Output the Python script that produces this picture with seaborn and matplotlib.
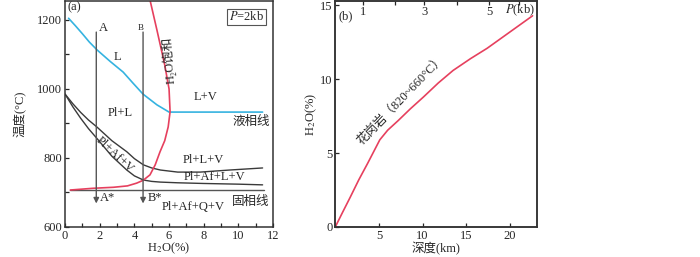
import matplotlib
matplotlib.use("Agg")
import matplotlib.pyplot as plt
from matplotlib.ticker import MultipleLocator
import seaborn as sns
import pandas as pd

# ---- data ----
# (a) phase diagram, P = 2kb
liquidus_x = [0.2, 0.6, 1.0, 1.4, 1.85, 2.6, 3.35, 3.9, 4.5, 5.3, 6.0, 8.0, 11.4]
liquidus_t = [1205, 1183, 1160, 1136, 1113, 1080, 1049, 1018, 985, 954, 933, 933, 933]

sat_x = [4.9, 5.3, 5.75, 6.0, 6.06, 5.95, 5.75, 5.48, 5.2, 4.9, 4.5, 4.13, 3.6, 2.8, 1.6, 0.3]
sat_t = [1258, 1171, 1070, 1000, 934, 890, 850, 818, 780, 751, 735, 727, 719, 715, 712, 707]

plv_x = [0, 0.45, 0.9, 1.35, 1.83, 2.7, 3.56, 4.0, 4.52, 5.0, 5.5, 6.5, 7.8, 9.5, 11.4]
plv_t = [985, 957, 932, 910, 890, 850, 818, 798, 780, 771, 765, 759, 759, 765, 771]

pafv_x = [0, 0.45, 0.9, 1.35, 1.83, 2.7, 3.56, 4.0, 4.52, 5.0, 5.5, 6.5, 8.0, 10.0, 11.4]
pafv_t = [985, 948, 915, 885, 857, 805, 765, 748, 736, 732, 730, 728, 726, 724, 722]

solidus_x = [0.3, 11.5]
solidus_t = [707, 707]

arrow_x = [1.8, 4.5]
arrow_top = 1165
arrow_bottom = 668

# (b) H2O solubility vs depth for granite
depth_km = [0, 0.8, 1.7, 2.7, 3.7, 5.1, 6.0, 7.2, 8.6, 10.1, 11.8, 13.5, 15.5, 17.4, 20.0, 22.6]
h2o_pct = [0, 0.95, 2.0, 3.2, 4.3, 5.9, 6.55, 7.2, 8.0, 8.8, 9.75, 10.6, 11.4, 12.1, 13.2, 14.3]

pressure_kb = [1, 2, 3, 4, 5, 6]
pressure_depth = [3.2, 6.86, 10.17, 13.9, 17.6, 21.1]
pressure_labels = ["1", "", "3", "", "5", "$P$(kb)"]

# ---- style ----
sns.set_style("ticks")
plt.rcParams["font.family"] = ["Liberation Serif", "DejaVu Serif", "Noto Sans CJK SC"]
plt.rcParams["mathtext.fontset"] = "stix"
plt.rcParams["font.size"] = 9
plt.rcParams["axes.linewidth"] = 1.1
plt.rcParams["axes.edgecolor"] = "#333333"

CYAN = "#35b3e0"
RED = "#e6405e"
DARK = "#3a3a3a"
GREY = "#555555"
FS = 9

fig = plt.figure(figsize=(7.0, 2.57), dpi=100)
ax1 = fig.add_axes([0.093, 0.117, 0.297, 0.879])
ax2 = fig.add_axes([0.479, 0.117, 0.288, 0.879])


def line(ax, x, y, color, lw):
    df = pd.DataFrame({"x": x, "y": y})
    sns.lineplot(data=df, x="x", y="y", ax=ax, color=color, lw=lw, sort=False,
                 estimator=None)


# ---- panel (a) ----
line(ax1, liquidus_x, liquidus_t, CYAN, 1.2)
line(ax1, plv_x, plv_t, DARK, 1.0)
line(ax1, pafv_x, pafv_t, DARK, 1.0)
line(ax1, solidus_x, solidus_t, GREY, 1.0)
line(ax1, sat_x, sat_t, RED, 1.2)

for xa in arrow_x:
    ax1.annotate("", xy=(xa, arrow_bottom), xytext=(xa, arrow_top),
                 arrowprops=dict(arrowstyle="-|>", color=GREY, lw=1.0,
                                 mutation_scale=8, shrinkA=0, shrinkB=0))

ax1.set_xlim(0, 12)
ax1.set_ylim(600, 1255)
ax1.xaxis.set_major_locator(MultipleLocator(2))
ax1.xaxis.set_minor_locator(MultipleLocator(1))
ax1.yaxis.set_major_locator(MultipleLocator(200))
ax1.yaxis.set_minor_locator(MultipleLocator(100))
ax1.tick_params(which="both", direction="in", length=3, width=0.9, labelsize=FS, pad=2)
ax1.set_xlabel("H$_2$O(%)", fontsize=FS, va="center")
ax1.xaxis.set_label_coords(0.5, -0.095)
ax1.set_ylabel("温度(°C)", fontsize=FS, va="center")
ax1.yaxis.set_label_coords(-0.215, 0.5)

ax1.text(0.15, 1238, "(a)", fontsize=FS, va="center", ha="left")
ax1.text(10.45, 1209, "$P$=2kb", fontsize=FS, ha="center", va="center",
         bbox=dict(boxstyle="square,pad=0.15", fc="white", ec=GREY, lw=0.8))
ax1.text(2.2, 1176, "A", fontsize=FS, ha="center", va="center")
ax1.text(4.38, 1176, "B", fontsize=6.5, ha="center", va="center")
ax1.text(3.0, 1092, "L", fontsize=FS, ha="center", va="center")
ax1.text(6.0, 1085, "H₂O饱和", fontsize=FS, ha="center", va="center", rotation=95)
ax1.text(8.1, 977, "L+V", fontsize=FS, ha="center", va="center")
ax1.text(11.8, 904, "液相线", fontsize=FS, ha="right", va="center")
ax1.text(3.2, 930, "Pl+L", fontsize=FS, ha="center", va="center")
ax1.text(2.85, 810, "Pl+Af+V", fontsize=FS, ha="center", va="center", rotation=-43)
ax1.text(8.0, 794, "Pl+L+V", fontsize=FS, ha="center", va="center")
ax1.text(8.65, 746, "Pl+Af+L+V", fontsize=FS, ha="center", va="center")
ax1.text(11.8, 672, "固相线", fontsize=FS, ha="right", va="center")
ax1.text(7.4, 657, "Pl+Af+Q+V", fontsize=FS, ha="center", va="center")
ax1.text(2.0, 684, "A*", fontsize=FS, ha="left", va="center")
ax1.text(4.75, 684, "B*", fontsize=FS, ha="left", va="center")

# ---- panel (b) ----
line(ax2, depth_km, h2o_pct, RED, 1.2)
ax2.set_xlim(0, 23.1)
ax2.set_ylim(0, 15.3)
ax2.set_xticks([5, 10, 15, 20])
ax2.set_yticks([0, 5, 10, 15])
ax2.tick_params(which="both", direction="in", length=3, width=0.9, labelsize=FS, pad=2)
ax2.set_xlabel("深度(km)", fontsize=FS, va="center")
ax2.xaxis.set_label_coords(0.5, -0.095)
ax2.set_ylabel("H$_2$O(%)", fontsize=FS, va="center")
ax2.yaxis.set_label_coords(-0.12, 0.5)

top = ax2.twiny()
top.set_xlim(ax2.get_xlim())
top.set_xticks(pressure_depth)
top.set_xticklabels(pressure_labels)
top.tick_params(axis="x", direction="in", length=3, width=0.9, labelsize=FS, pad=-12)

ax2.text(0.35, 14.3, "(b)", fontsize=FS, ha="left", va="center")
ax2.text(7.5, 8.6, "花岗岩（820~660°C）", fontsize=FS, ha="center", va="center",
         rotation=46)

fig.savefig("out.png", dpi=100)
